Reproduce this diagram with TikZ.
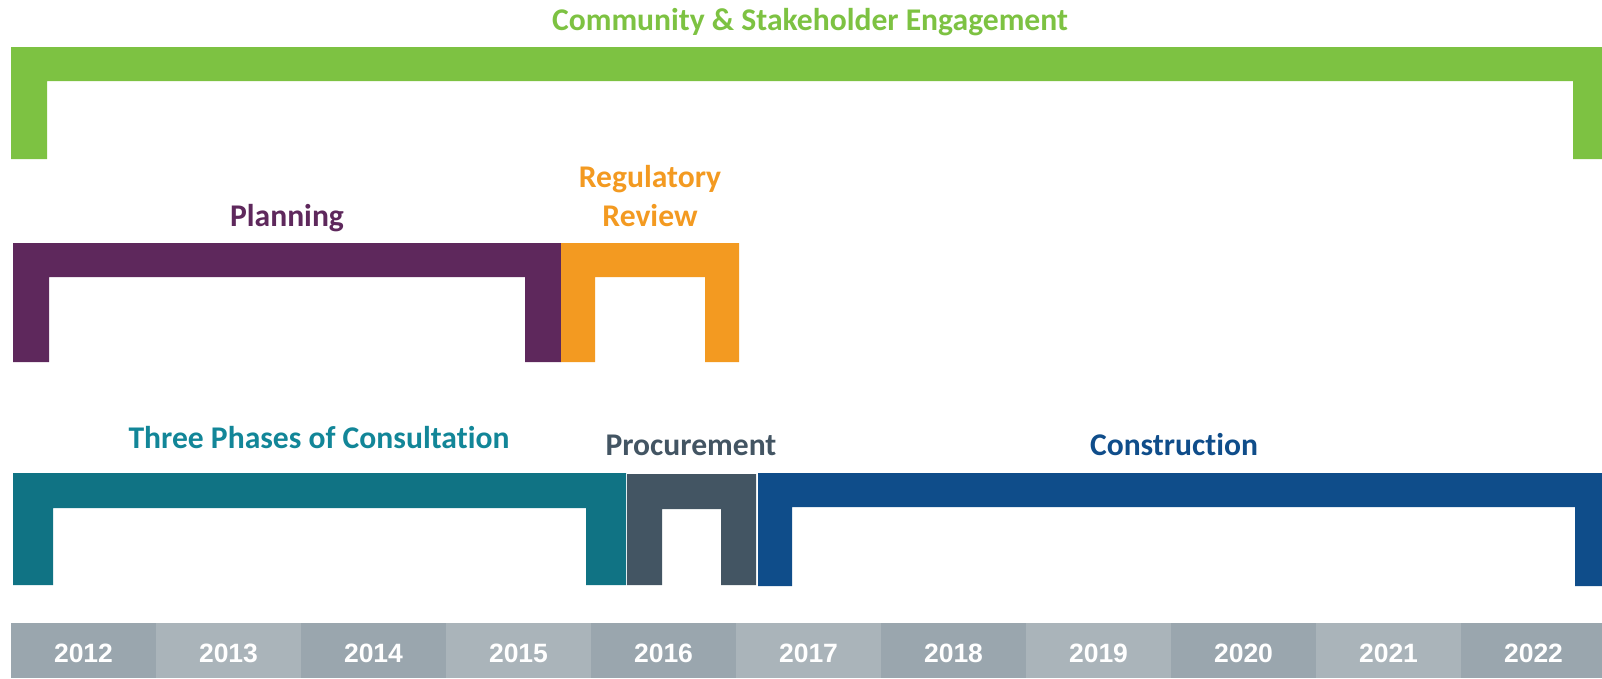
\documentclass[tikz,border=0pt]{standalone}
\usepackage{fontspec}
\setmainfont{Carlito}[Ligatures=NoCommon]
\newfontfamily\yearfont{Liberation Sans}
\usepackage{tikz}
\usetikzlibrary{positioning}

\definecolor{engage}{RGB}{125,194,66}
\definecolor{plan}{RGB}{94,40,92}
\definecolor{review}{RGB}{243,154,33}
\definecolor{consult}{RGB}{16,115,132}
\definecolor{consulttxt}{RGB}{18,134,152}
\definecolor{procure}{RGB}{67,85,99}
\definecolor{build}{RGB}{15,77,138}
\definecolor{yrdark}{RGB}{154,166,174}
\definecolor{yrlight}{RGB}{170,180,186}

% colour, left, right, top, bottom, leg width, bar height
\newcommand\phasebar[7]{%
  \fill[#1] (#2,#4) -- (#3,#4) -- (#3,#5) -- ({#3-#6},#5) -- ({#3-#6},{#4+#7})
            -- ({#2+#6},{#4+#7}) -- ({#2+#6},#5) -- (#2,#5) -- cycle;}

\begin{document}
\begin{tikzpicture}[
x = 1pt, y = -1pt,
     L/.style = {anchor=base, inner sep=0pt, align=center,
                 font=\bfseries\fontsize{31.6}{39}\selectfont},
     Y/.style = {anchor=base, inner sep=0pt, text=white,
                 font=\yearfont\bfseries\fontsize{26.5}{30}\selectfont},
  cell/.style = {minimum width=145pt, minimum height=55pt, inner sep=0pt,
                 anchor=north west}
                    ]
\clip (0,0) rectangle (1602,678);
% brackets
\phasebar{engage}{11}{1609}{47}{159}{36}{34}
\phasebar{plan}{13}{561}{243}{362}{36}{34}
\phasebar{review}{561}{739}{243}{362}{34}{34}
\phasebar{consult}{13}{626}{473}{585}{40}{35}
\phasebar{procure}{627}{756}{474}{585}{35}{35}
\phasebar{build}{758}{1609}{473}{586}{34}{34}
% labels
\node (engage)  [L, text=engage]     at (810,30)  {Community \& Stakeholder Engagement};
\node (plan)    [L, text=plan]       at (287,226) {Planning};
\node (review)  [L, text=review]     at (650,226) {Regulatory\\Review};
\node (consult) [L, text=consulttxt] at (319,448) {Three Phases of Consultation};
\node (procure) [L, text=procure]    at (691,455) {Procurement};
\node (build)   [L, text=build]      at (1174,455) {Construction};
% years
\foreach \yr [count=\i from 0] in {2012,...,2022}
  {
  \pgfmathsetmacro\shade{mod(\i,2)==0 ? "yrdark" : "yrlight"}
  \node (c\yr) [cell, fill=\shade] at ({11+145*\i},623) {};
  \node (y\yr) [Y] at ({83.5+145*\i},662) {\yr};
  }
\end{tikzpicture}
\end{document}
